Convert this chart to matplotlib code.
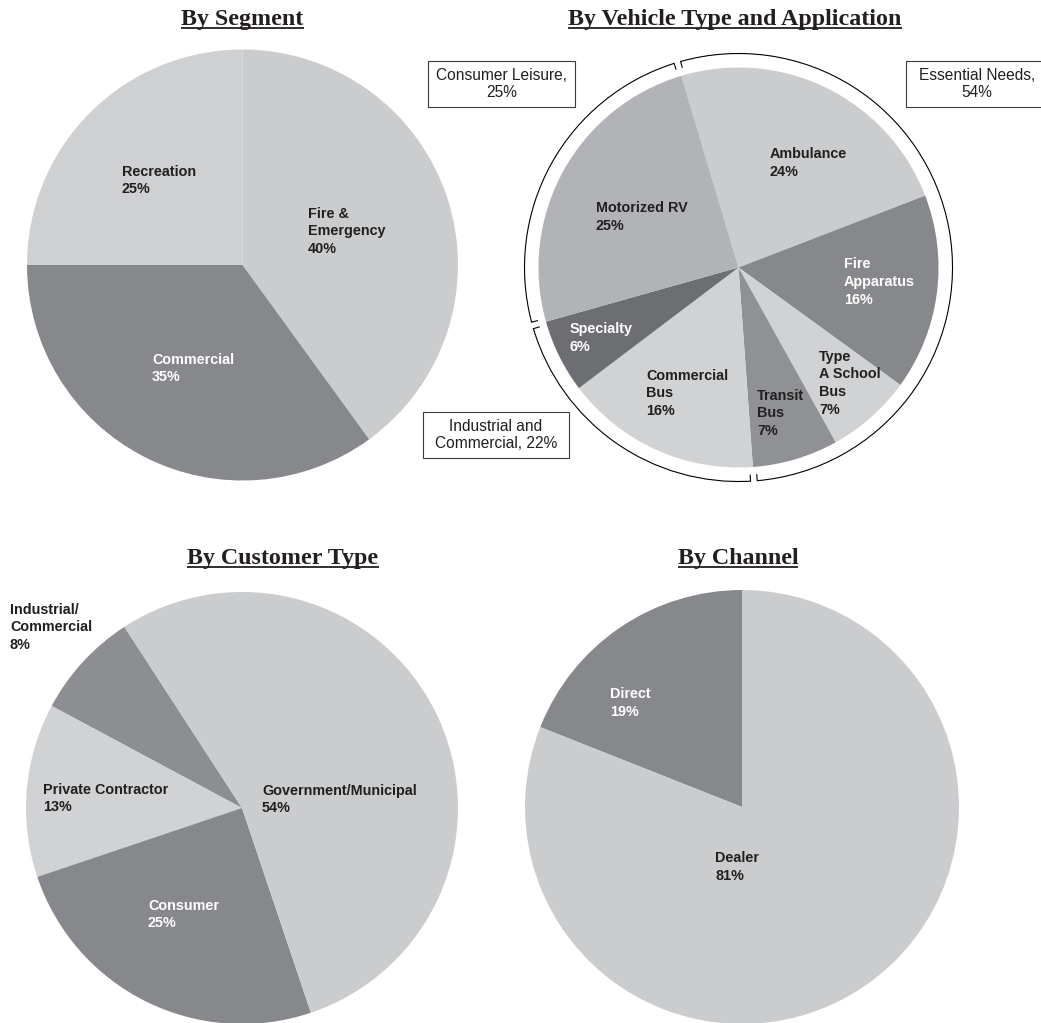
import numpy as np
import matplotlib.pyplot as plt
from matplotlib.patches import Arc, Rectangle

W, H = 1041, 1023

# --- data -------------------------------------------------------------
seg_names = ['Fire &\nEmergency', 'Commercial', 'Recreation']
seg_vals = [40, 35, 25]

veh_names = ['Ambulance', 'Fire\nApparatus', 'Type\nA School\nBus', 'Transit\nBus',
             'Commercial\nBus', 'Specialty', 'Motorized RV']
veh_vals = [24, 16, 7, 7, 16, 6, 25]
veh_groups = [('Essential Needs,\n', [0, 1, 2, 3]),
              ('Industrial and\nCommercial, ', [4, 5]),
              ('Consumer Leisure,\n', [6])]

cust_names = ['Industrial/\nCommercial', 'Private Contractor', 'Consumer', 'Government/Municipal']
cust_vals = [8, 13, 25, 54]

chan_names = ['Direct', 'Dealer']
chan_vals = [19, 81]

# --- styling ----------------------------------------------------------
LIGHT = '#cbccce'
LIGHTER = '#d1d2d4'
MID = '#87888b'
DARK = '#6d6e71'
DARKTXT = '#231f20'

plt.rcParams['font.family'] = ['Liberation Sans', 'DejaVu Sans']

fig = plt.figure(figsize=(W / 100, H / 100), dpi=100)
ax = fig.add_axes([0, 0, 1, 1])
titles = []


def py(y):
    # pixel rows are counted from the top
    return H - y


def pie(vals, cx, cy, r, colors, start, ccw):
    ax.pie(vals, colors=colors, startangle=start, counterclock=ccw,
           center=(cx, py(cy)), radius=r, wedgeprops=dict(linewidth=0))


def labels(names, vals, spots, colors):
    for name, v, (x, yb), c in zip(names, vals, spots, colors):
        ax.text(x, py(yb - 10.5), f'{name}\n{v}%', ha='left', va='top',
                fontsize=10.4, fontweight='bold', color=c, linespacing=1.34)


def title(s, cx, yb):
    t = ax.text(cx, py(yb), s, ha='center', va='baseline', fontsize=17.3,
                fontweight='bold', family='Liberation Serif', color=DARKTXT)
    titles.append((t, yb))


# By Segment
pie(seg_vals, 242.5, 265, 215.5, [LIGHT, MID, '#cfd0d2'], 90, False)
labels(seg_names, seg_vals, [(308, 217), (152, 363), (122, 175)],
       [DARKTXT, 'white', DARKTXT])
title('By Segment', 242.5, 25)

# By Vehicle Type and Application
vcx, vcy, vr = 738.5, 267.5, 200
vstart = 106.6
pie(veh_vals, vcx, vcy, vr,
    [LIGHT, MID, LIGHTER, '#909194', LIGHTER, DARK, '#b2b3b6'], vstart, False)
labels(veh_names, veh_vals,
       [(770, 158), (844, 268), (819, 360), (757, 399), (646, 379), (570, 333), (596, 212)],
       [DARKTXT, 'white', DARKTXT, DARKTXT, DARKTXT, 'white', DARKTXT])
title('By Vehicle Type and Application', 735, 25)

# outer ring grouping the vehicle slices
cum = np.concatenate([[0], np.cumsum(veh_vals)]) / sum(veh_vals)
r_ring, tick, gap = 214, 6, 0.9
for name, idx in veh_groups:
    a0 = vstart - 360 * cum[idx[0]]
    a1 = vstart - 360 * cum[idx[-1] + 1]
    ax.add_patch(Arc((vcx, py(vcy)), 2 * r_ring, 2 * r_ring,
                     theta1=a1 + gap, theta2=a0 - gap, color='black', lw=0.8))
    for a in (a0 - gap, a1 + gap):
        t = np.radians(a)
        ax.plot([vcx + r_ring * np.cos(t), vcx + (r_ring - tick) * np.cos(t)],
                [py(vcy) + r_ring * np.sin(t), py(vcy) + (r_ring - tick) * np.sin(t)],
                color='black', lw=0.8)

# group boxes; the right one runs off the edge of the figure
boxes = [(906, 61, 180, 46), (423, 412, 146, 46), (428, 61, 147, 46)]
for (name, idx), (bx, by, bw, bh) in zip(veh_groups, boxes):
    total = sum(veh_vals[i] for i in idx)
    ax.add_patch(Rectangle((bx, py(by + bh)), bw, bh, facecolor='white',
                           edgecolor='#3a3a3a', lw=0.8, clip_on=False))
    cx = bx + bw / 2 if bw < 150 else 977
    ax.text(cx, py(by + bh / 2), f'{name}{total}%',
            ha='center', va='center', fontsize=11.2, color=DARKTXT, linespacing=1.1)

# By Customer Type
pie(cust_vals, 242, 808, 216, ['#8d8e91', LIGHTER, MID, LIGHT], 123, True)
labels(cust_names, cust_vals, [(10, 613), (43, 793), (148, 909), (262, 794)],
       [DARKTXT, DARKTXT, 'white', DARKTXT])
title('By Customer Type', 283, 564)

# By Channel
pie(chan_vals, 742, 807, 217, [MID, LIGHT], 90, True)
labels(chan_names, chan_vals, [(610, 698), (715, 862)], ['white', DARKTXT])
title('By Channel', 738, 564)

ax.set_xlim(0, W)
ax.set_ylim(0, H)
ax.set_aspect('equal')
ax.axis('off')

# underline the titles once the data limits are final
renderer = fig.canvas.get_renderer()
inv = ax.transData.inverted()
for t, yb in titles:
    bb = t.get_window_extent(renderer=renderer)
    x0 = inv.transform((bb.x0, 0))[0]
    x1 = inv.transform((bb.x1, 0))[0]
    ax.plot([x0, x1], [py(yb + 3), py(yb + 3)], color=DARKTXT, lw=1.3,
            solid_capstyle='butt')

fig.savefig('out.png', dpi=100)
